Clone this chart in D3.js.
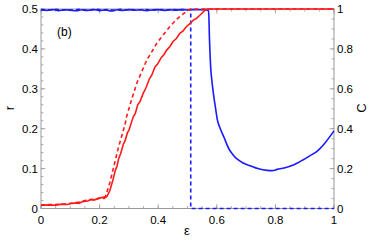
<!DOCTYPE html>
<html>
<head>
<meta charset="utf-8">
<script src="https://cdn.jsdelivr.net/npm/d3@7"></script>
<style>
body { margin: 0; background: #fff; }
svg { display: block; font-family: "Liberation Sans", Arial, sans-serif; }
.tick-label { font-size: 11.5px; fill: #000; }
</style>
</head>
<body>
<svg id="chart" width="374" height="242"></svg>
<script>
// r (left axis), red
var rSolid = [[0,0.008],[0.03,0.009],[0.05,0.008],[0.07,0.011],[0.09,0.01],[0.1,0.012],[0.12,0.014],[0.13,0.013],
	[0.14,0.017],[0.16,0.019],[0.17,0.023],[0.18,0.021],[0.2,0.026],[0.21,0.028],[0.215,0.025],[0.225,0.03],
	[0.235,0.045],[0.245,0.07],[0.253,0.094],[0.26,0.108],[0.265,0.125],[0.272,0.138],[0.281,0.161],[0.288,0.172],
	[0.295,0.19],[0.3,0.196],[0.31,0.219],[0.315,0.23],[0.322,0.238],[0.33,0.26],[0.338,0.268],[0.349,0.289],
	[0.358,0.302],[0.37,0.325],[0.378,0.334],[0.389,0.355],[0.398,0.362],[0.41,0.378],[0.42,0.386],[0.429,0.397],
	[0.44,0.406],[0.45,0.418],[0.462,0.426],[0.474,0.439],[0.485,0.445],[0.495,0.455],[0.509,0.464],
	[0.52,0.472],[0.53,0.476],[0.543,0.485],[0.56,0.497],[0.567,0.5],[1,0.5]];
var rDashed = [[0,0.009],[0.04,0.01],[0.08,0.011],[0.1,0.013],[0.13,0.016],[0.15,0.02],[0.18,0.023],[0.2,0.026],
	[0.22,0.03],[0.235,0.065],[0.25,0.11],[0.264,0.152],[0.287,0.211],[0.292,0.23],[0.31,0.275],[0.327,0.314],
	[0.345,0.345],[0.361,0.372],[0.38,0.395],[0.395,0.414],[0.42,0.438],[0.44,0.456],[0.46,0.472],[0.48,0.485],
	[0.503,0.497],[0.51,0.5],[1,0.5]];

// C (right axis), blue
var cSolid = [[0,0.995],[0.02,0.993],[0.04,0.997],[0.06,0.992],[0.08,0.996],[0.1,0.994],[0.12,0.991],[0.14,0.996],
	[0.16,0.993],[0.18,0.997],[0.2,0.992],[0.22,0.995],[0.24,0.99],[0.26,0.996],[0.28,0.993],[0.3,0.997],
	[0.32,0.994],[0.34,0.996],[0.36,0.992],[0.38,0.995],[0.4,0.997],[0.42,0.993],[0.44,0.996],[0.46,0.994],
	[0.48,0.997],[0.5,0.995],[0.52,0.997],[0.54,0.996],[0.56,0.997],[0.572,0.99],[0.575,0.85],[0.579,0.71],
	[0.584,0.63],[0.59,0.56],[0.596,0.5],[0.602,0.444],[0.612,0.4],[0.625,0.355],[0.642,0.297],[0.655,0.27],
	[0.67,0.247],[0.69,0.228],[0.716,0.213],[0.74,0.2],[0.772,0.191],[0.79,0.19],[0.806,0.196],[0.83,0.203],
	[0.852,0.213],[0.875,0.228],[0.898,0.247],[0.92,0.266],[0.943,0.288],[0.97,0.33],[1,0.389]];
var cDashed = [[0,0.997],[0.03,0.995],[0.05,0.998],[0.07,0.994],[0.09,0.997],[0.11,0.995],[0.13,0.998],[0.15,0.994],
	[0.17,0.996],[0.19,0.998],[0.21,0.995],[0.23,0.997],[0.25,0.994],[0.27,0.998],[0.29,0.995],[0.31,0.997],
	[0.33,0.994],[0.35,0.998],[0.37,0.996],[0.39,0.994],[0.41,0.997],[0.43,0.995],[0.45,0.998],[0.47,0.995],
	[0.49,0.997],[0.511,0.996],[0.511,0],[1,0]];

var xTicks = [0, 0.2, 0.4, 0.6, 0.8, 1];
var xTickLabels = ["0", "0.2", "0.4", "0.6", "0.8", "1"];
var rTicks = [0, 0.1, 0.2, 0.3, 0.4, 0.5];
var rTickLabels = ["0", "0.1", "0.2", "0.3", "0.4", "0.5"];
var cTicks = [0, 0.2, 0.4, 0.6, 0.8, 1];
var cTickLabels = ["0", "0.2", "0.4", "0.6", "0.8", "1"];

var svg = d3.select("#chart");
var margin = {left: 41, right: 40, top: 9, bottom: 33.5};
var W = 374, H = 242;
var x = d3.scaleLinear().domain([0, 1]).range([margin.left, W - margin.right]);
var yR = d3.scaleLinear().domain([0, 0.5]).range([H - margin.bottom, margin.top]);
var yC = d3.scaleLinear().domain([0, 1]).range([H - margin.bottom, margin.top]);

var frameColor = "#999";

// frame
svg.append("rect")
	.attr("x", x(0)).attr("y", yR(0.5))
	.attr("width", x(1) - x(0)).attr("height", yR(0) - yR(0.5))
	.attr("fill", "none").attr("stroke", frameColor).attr("stroke-width", 1);

// inward ticks
function tickLines(vals, len, dir) {
	var g = svg.append("g").attr("stroke", frameColor).attr("stroke-width", 0.8);
	vals.forEach(function(v) {
		if (dir == "bottom") g.append("line").attr("x1", x(v)).attr("x2", x(v)).attr("y1", yR(0)).attr("y2", yR(0) - len);
		if (dir == "top") g.append("line").attr("x1", x(v)).attr("x2", x(v)).attr("y1", yR(0.5)).attr("y2", yR(0.5) + len);
		if (dir == "left") g.append("line").attr("x1", x(0)).attr("x2", x(0) + len).attr("y1", yR(v)).attr("y2", yR(v));
		if (dir == "right") g.append("line").attr("x1", x(1)).attr("x2", x(1) - len).attr("y1", yC(v)).attr("y2", yC(v));
	});
}
var xMinor = d3.range(0, 1.0001, 0.05);
var rMinor = d3.range(0, 0.5001, 0.02);
var cMinor = d3.range(0, 1.0001, 0.05);
tickLines(xMinor, 2.5, "bottom");
tickLines(xMinor, 2.5, "top");
tickLines(xTicks, 4.5, "bottom");
tickLines(xTicks, 4.5, "top");
tickLines(rMinor, 2.5, "left");
tickLines(rTicks, 4.5, "left");
tickLines(cMinor, 2.5, "right");
tickLines(cTicks, 4.5, "right");

// tick labels
svg.append("g").selectAll("text").data(xTicks).join("text")
	.attr("class", "tick-label")
	.attr("x", function(d) { return x(d); })
	.attr("y", 224)
	.attr("text-anchor", "middle")
	.text(function(d, i) { return xTickLabels[i]; });
svg.append("g").selectAll("text").data(rTicks).join("text")
	.attr("class", "tick-label")
	.attr("x", 38)
	.attr("y", function(d) { return yR(d) + 4; })
	.attr("text-anchor", "end")
	.text(function(d, i) { return rTickLabels[i]; });
svg.append("g").selectAll("text").data(cTicks).join("text")
	.attr("class", "tick-label")
	.attr("x", 337)
	.attr("y", function(d) { return yC(d) + 4; })
	.attr("text-anchor", "start")
	.text(function(d, i) { return cTickLabels[i]; });

// axis titles
svg.append("text").attr("transform", "translate(14,108) rotate(-90)")
	.attr("text-anchor", "middle").style("font-size", "13px").text("r");
svg.append("text").attr("transform", "translate(366,108) rotate(-90)")
	.attr("text-anchor", "middle").style("font-size", "13px").text("C");
svg.append("text").attr("x", 187).attr("y", 235)
	.attr("text-anchor", "middle").style("font-size", "13px").text("ε");
svg.append("text").attr("x", 57).attr("y", 36)
	.style("font-size", "12px").text("(b)");

// curves
var lineR = d3.line().x(function(d) { return x(d[0]); }).y(function(d) { return yR(d[1]); });
var lineC = d3.line().x(function(d) { return x(d[0]); }).y(function(d) { return yC(d[1]); });
var lineCSmooth = d3.line().curve(d3.curveMonotoneX)
	.x(function(d) { return x(d[0]); }).y(function(d) { return yC(d[1]); });

svg.append("path").datum(cDashed).attr("d", lineC)
	.attr("fill", "none").attr("stroke", "#1a1aff").attr("stroke-width", 1.6).attr("stroke-dasharray", "4,3");
svg.append("path").datum(cSolid).attr("d", lineCSmooth)
	.attr("fill", "none").attr("stroke", "#1a1aff").attr("stroke-width", 1.6);
svg.append("path").datum(rDashed).attr("d", lineR)
	.attr("fill", "none").attr("stroke", "#ff1a1a").attr("stroke-width", 1.6).attr("stroke-dasharray", "4,3");
svg.append("path").datum(rSolid).attr("d", lineR)
	.attr("fill", "none").attr("stroke", "#ff1a1a").attr("stroke-width", 1.6);
</script>
</body>
</html>
